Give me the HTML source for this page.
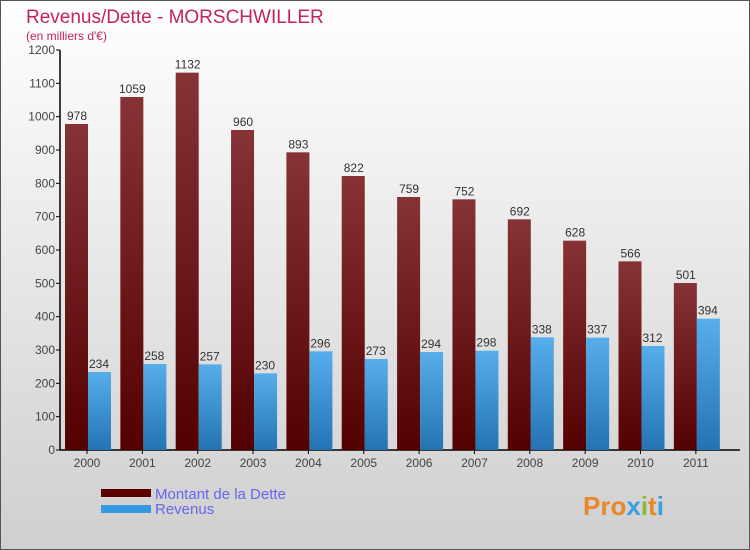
<!DOCTYPE html>
<html><head><meta charset="utf-8"><style>
body{margin:0}
#c{position:relative;width:750px;height:550px;overflow:hidden}
</style></head><body>
<div id="c">
<svg width="750" height="550" xmlns="http://www.w3.org/2000/svg" font-family="'Liberation Sans',sans-serif">
<defs>
<linearGradient id="bg" x1="0" y1="0" x2="0" y2="1"><stop offset="0" stop-color="#ffffff"/><stop offset="1" stop-color="#cfcfcf"/></linearGradient>
<linearGradient id="gd" x1="0" y1="0" x2="0" y2="1"><stop offset="0" stop-color="#863336"/><stop offset="1" stop-color="#520000"/></linearGradient>
<linearGradient id="gr" x1="0" y1="0" x2="0" y2="1"><stop offset="0" stop-color="#57aeea"/><stop offset="1" stop-color="#2473b3"/></linearGradient>
</defs>
<rect x="0.5" y="0.5" width="749" height="549" fill="url(#bg)" stroke="#555"/>
<text x="26" y="23" font-size="19" fill="#c4245a">Revenus/Dette - MORSCHWILLER</text>
<text x="26" y="40" font-size="12" fill="#c4245a">(en milliers d'€)</text>
<g id="axes"></g>
<g id="bars"></g>
<rect x="101" y="489" width="50" height="8" fill="#5a0000"/>
<rect x="101" y="505" width="50" height="8" fill="#3399e0"/>
<text x="155" y="499" font-size="15" fill="#6666ee">Montant de la Dette</text>
<text x="155" y="514" font-size="15" fill="#6666ee">Revenus</text>
<text x="583" y="515" font-size="26" font-weight="bold" fill="#e8882a">Pro<tspan fill="#3aa0dd">x</tspan><tspan fill="#88bb33">i</tspan>t<tspan fill="#3aa0dd">i</tspan></text>
</svg>
</div>
<script>
const years=["2000","2001","2002","2003","2004","2005","2006","2007","2008","2009","2010","2011"];
const dette=[978,1059,1132,960,893,822,759,752,692,628,566,501];
const revenus=[234,258,257,230,296,273,294,298,338,337,312,394];
const yTicks=[0,100,200,300,400,500,600,700,800,900,1000,1100,1200];
const NS="http://www.w3.org/2000/svg";
const y=v=>450-v*400/1200;
const cx=i=>87+i*55.35;
function mk(t,a,p,txt){const e=document.createElementNS(NS,t);for(const k in a)e.setAttribute(k,a[k]);if(txt!==undefined)e.textContent=txt;p.appendChild(e);return e;}
const ax=document.getElementById('axes'),bs=document.getElementById('bars');
let l=mk('line',{x1:60,y1:50,x2:60,y2:450,stroke:'#000','stroke-width':1.5},ax);


l=mk('line',{x1:60,y1:450,x2:740,y2:450,stroke:'#000','stroke-width':1.5},ax);


yTicks.forEach(v=>{
 mk('line',{x1:56,y1:y(v),x2:60,y2:y(v),stroke:'#000'},ax);
 const t=mk('text',{x:55,y:y(v)+4,'font-size':12,fill:'#444','text-anchor':'end'},ax,v);
 
 
});
years.forEach((yr,i)=>{
 const c=cx(i);
 mk('line',{x1:c,y1:450,x2:c,y2:454,stroke:'#000'},ax);
 const t=mk('text',{x:c,y:467,'font-size':12,fill:'#444','text-anchor':'middle'},ax,yr);
 
 
 let r=mk('rect',{x:c-22,y:y(dette[i]),width:23,height:450-y(dette[i]),fill:'url(#gd)'},bs);
 
 
 r=mk('rect',{x:c+1,y:y(revenus[i]),width:23,height:450-y(revenus[i]),fill:'url(#gr)'},bs);
 
 
 let v=mk('text',{x:c-10,y:y(dette[i])-4,'font-size':12,fill:'#333','text-anchor':'middle'},bs,dette[i]);
 
 
 v=mk('text',{x:c+12,y:y(revenus[i])-4,'font-size':12,fill:'#333','text-anchor':'middle'},bs,revenus[i]);
 
 
});
</script>
</body></html>
